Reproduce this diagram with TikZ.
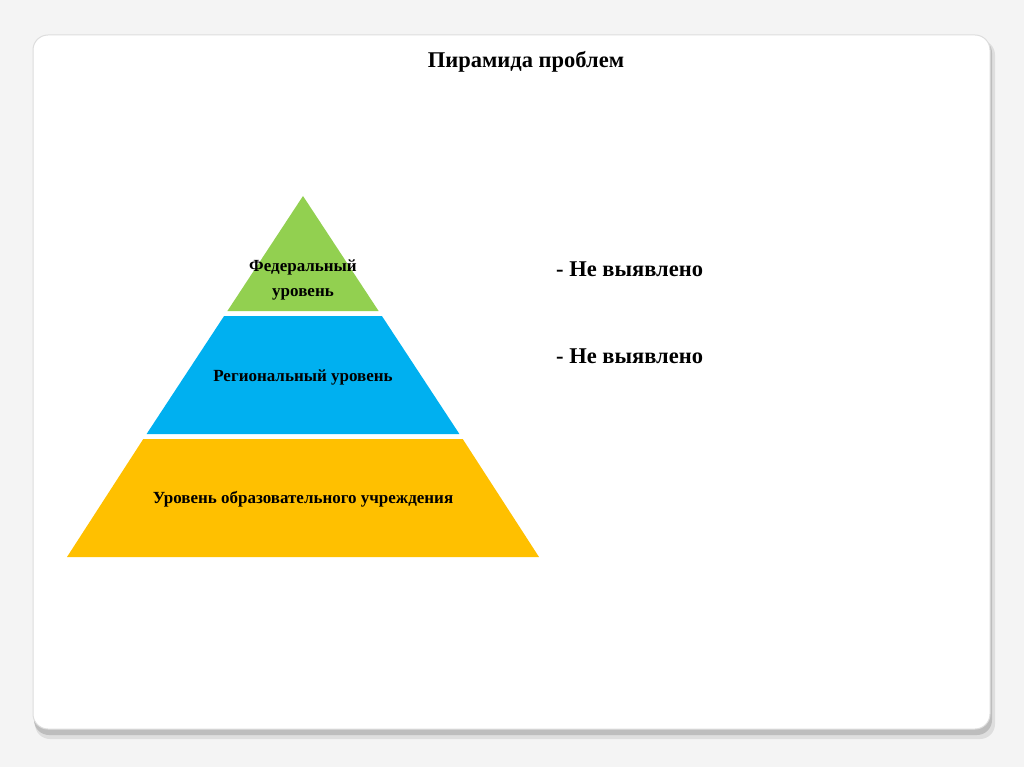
\documentclass[tikz,border=0pt]{standalone}
\usepackage{fontspec}
\setmainfont{Liberation Serif}
\begin{document}
\begin{tikzpicture}[x=1pt,y=-1pt,
  lbl/.style={font=\bfseries\fontsize{17}{25}\selectfont, align=center, inner sep=0pt},
  side/.style={font=\bfseries\fontsize{22.5}{26}\selectfont, anchor=west, inner sep=0pt}]
\definecolor{bggray}{HTML}{F4F4F4}
\definecolor{shadowgray}{HTML}{BDBDBD}
\definecolor{cardline}{HTML}{DDDDDD}
\definecolor{pgreen}{HTML}{92D050}
\definecolor{pblue}{HTML}{00B0F0}
\definecolor{pyellow}{HTML}{FFC000}
\useasboundingbox (0,0) rectangle (1024,767);
\fill[bggray] (0,0) rectangle (1024,767);
% card shadow and card
\fill[shadowgray!50, rounded corners=15pt] (35,40) rectangle (995,739);
\fill[shadowgray, rounded corners=15pt] (34,38) rectangle (992,735);
\filldraw[fill=white, draw=cardline, line width=1pt, rounded corners=15pt] (33,35) rectangle (990,729);
% title
\node[font=\bfseries\fontsize{22.5}{26}\selectfont, inner sep=0pt] (title) at (526,62) {Пирамида проблем};
% pyramid: apex (303,196), base (67,557)-(539,557)
\fill[pgreen] (303,196) -- (378.6,311) -- (227.4,311) -- cycle;
\fill[pblue] (381.9,316) -- (459.4,434) -- (146.6,434) -- (224.1,316) -- cycle;
\fill[pyellow] (462.7,439) -- (539,557) -- (67,557) -- (143.3,439) -- cycle;
\node[lbl] (fed) at (303,280) {Федеральный\\уровень};
\node[lbl] (reg) at (303,377) {Региональный уровень};
\node[lbl] (edu) at (303,499) {Уровень образовательного учреждения};
% side notes
\node[side] (n1) at (556,269) {- Не выявлено};
\node[side] (n2) at (556,356) {- Не выявлено};
\end{tikzpicture}
\end{document}
